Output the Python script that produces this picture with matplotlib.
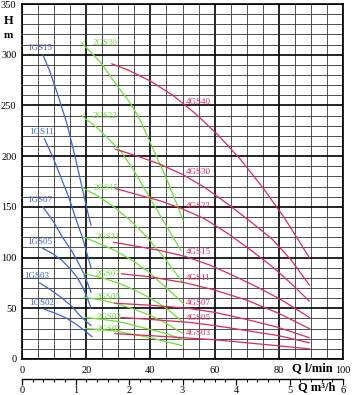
import numpy as np
import matplotlib.pyplot as plt
from matplotlib.ticker import MultipleLocator

# ---- curve data (Q in l/min, H in m) ----
blue_names = ["1GS15", "1GS11", "1GS07", "1GS05", "1GS03", "1GS02"]
blue_q = [[6.5, 8.5, 11.0, 14.0, 16.5, 18.5, 20.3, 21.5],
          [7.0, 9.5, 12.0, 14.5, 16.8, 18.8, 20.5, 21.5],
          [6.5, 9.5, 12.6, 15.0, 17.2, 19.0, 20.5, 21.5],
          [6.5, 9.5, 12.5, 15.0, 17.3, 19.2, 20.6, 21.5],
          [5.5, 9.0, 12.5, 15.5, 18.0, 20.0, 21.5],
          [7.0, 10.5, 14.0, 17.0, 19.5, 21.8]]
blue_h = [[300, 285, 262, 232, 200, 172, 147, 132],
          [217, 200, 180, 160, 138, 120, 101, 90],
          [150, 137, 120, 109, 97, 86, 74, 66],
          [109, 104, 97, 89, 80, 69, 58, 50],
          [75, 68, 60, 52, 43, 37, 33],
          [49, 45, 40, 34, 28, 22]]

green_names = ["2GS30", "2GS22", "2GS15", "2GS11", "2GS07", "2GS05", "2GS03", "2GS02"]
green_q = [[18.5, 24.6, 29.5, 33.8, 36.9, 40.0, 45.0, 50.2],
           [18.5, 23.0, 27.0, 31.0, 35.0, 40.0, 45.0, 49.5],
           [18.8, 24.0, 29.0, 34.0, 39.0, 44.0, 50.2],
           [19.4, 24.0, 29.0, 34.0, 39.0, 44.0, 50.2],
           [19.4, 25.0, 30.0, 35.0, 40.0, 45.0, 50.2],
           [19.4, 25.0, 30.0, 35.0, 40.0, 45.0, 50.2],
           [19.7, 25.0, 30.0, 35.0, 40.0, 45.0, 50.2],
           [19.7, 25.0, 30.0, 35.0, 40.0, 45.0, 50.2]]
green_h = [[312, 292, 270, 252, 235, 213, 178, 137],
           [240, 229, 217, 204, 185, 158, 131, 107],
           [169, 160, 149, 136, 120, 101, 75],
           [120, 114, 107, 98, 87, 73, 55],
           [84, 80, 75, 68, 60, 50, 36],
           [61, 58, 54, 49, 43, 35, 25],
           [41, 39, 37, 33, 29, 25, 19],
           [30, 29, 27, 24, 21, 17, 13]]

red_names = ["4GS40", "4GS30", "4GS22", "4GS15", "4GS11", "4GS07", "4GS05", "4GS03"]
red_q = [[28.0, 33.0, 40.0, 47.0, 54.0, 61.0, 68.0, 75.0, 82.0, 89.5],
         [29.0, 36.0, 43.0, 50.0, 57.0, 64.0, 71.0, 78.0, 84.0, 89.5],
         [29.2, 36.0, 43.0, 50.0, 57.0, 64.0, 71.0, 78.0, 84.0, 89.5],
         [28.6, 36.0, 43.0, 51.0, 59.0, 66.0, 73.2, 81.0, 89.5],
         [31.0, 40.0, 51.0, 60.0, 70.0, 80.0, 89.5],
         [28.9, 40.0, 51.7, 60.0, 70.0, 80.0, 89.5],
         [30.8, 40.0, 52.3, 60.0, 70.0, 80.0, 89.5],
         [29.0, 40.0, 50.0, 60.0, 70.0, 80.0, 89.5]]
red_h = [[291, 285, 274, 260, 242, 221, 197, 169, 138, 100],
         [207, 200, 192, 182, 169, 153, 136, 118, 97, 73],
         [168, 162, 156, 148, 138, 124, 108, 91, 74, 57],
         [115, 111, 107, 101, 92, 82, 71, 58, 41],
         [84, 81, 75, 68, 58, 45, 30],
         [55, 53, 50, 46, 39, 31, 21],
         [41, 39, 36, 33, 28, 23, 16],
         [25, 23, 21, 19, 16, 13, 10]]

q_ticks = [0, 20, 40, 60, 80, 100]
m3h_ticks = [0, 1, 2, 3, 4, 5, 6]
h_ticks = [0, 50, 100, 150, 200, 250, 300, 350]

BLUE = "#3e63d6"
GREEN = "#6ee03a"
RED = "#dc2a5a"
serif = "Liberation Serif"

fig = plt.figure(figsize=(3.53, 3.95), dpi=100)
ax = fig.add_axes([22 / 353, 36 / 395, 321 / 353, 355 / 395])
ax.set_xlim(0, 99)
ax.set_ylim(0, 350)

# grid: thin every 5 l/min / 10 m, heavy every 20 l/min / 50 m
ax.xaxis.set_major_locator(MultipleLocator(20))
ax.xaxis.set_minor_locator(MultipleLocator(5))
ax.yaxis.set_major_locator(MultipleLocator(50))
ax.yaxis.set_minor_locator(MultipleLocator(10))
ax.grid(which="minor", color="#333333", lw=0.6)
ax.grid(which="major", color="black", lw=1.2)
ax.set_axisbelow(True)
ax.tick_params(which="both", length=0)
ax.tick_params(axis="x", pad=5, labelsize=7.5)
ax.tick_params(axis="y", pad=4, labelsize=7.5)
ax.set_xticks(q_ticks)
ax.set_yticks(h_ticks)
for lab in ax.get_xticklabels() + ax.get_yticklabels():
    lab.set_family(serif)
for s in ax.spines.values():
    s.set_linewidth(1.2)


def draw_family(names, qs, hs, color, where):
    for name, q, h in zip(names, qs, hs):
        ax.plot(q, h, color=color, lw=0.9)
        if where == "blue":
            ax.annotate(name, (q[0], h[0]), xytext=(-2, 2), textcoords="offset points",
                        ha="center", va="bottom", color=color, fontsize=6.5, family=serif)
        elif where == "green":
            ax.annotate(name, (q[0], h[0]), xytext=(8, 0), textcoords="offset points",
                        ha="left", va="center", color=color, fontsize=6.5, family=serif)
        else:
            hy = np.interp(51.2, q, h)
            ax.annotate(name, (51.2, hy), xytext=(0, 0.5), textcoords="offset points",
                        ha="left", va="bottom", color=color, fontsize=6.5, family=serif)


draw_family(blue_names, blue_q, blue_h, BLUE, "blue")
draw_family(green_names, green_q, green_h, GREEN, "green")
draw_family(red_names, red_q, red_h, RED, "red")

# secondary flow scale in m3/h under the chart
ax2 = fig.add_axes([22 / 353, 16 / 395, 321 / 353, 0.0001])
ax2.set_xlim(0, 99 * 6 / 100)
ax2.set_ylim(0, 1)
for side in ["top", "left", "right"]:
    ax2.spines[side].set_visible(False)
ax2.spines["bottom"].set_linewidth(1.0)
ax2.set_yticks([])
ax2.set_xticks(m3h_ticks)
ax2.xaxis.set_minor_locator(MultipleLocator(0.2))
ax2.tick_params(which="major", length=4, width=0.9, pad=1, labelsize=7.5)
ax2.tick_params(which="minor", length=2.5, width=0.8)
for lab in ax2.get_xticklabels():
    lab.set_family(serif)

fig.text(4 / 353, 1 - 21 / 395, "H", fontsize=9, fontweight="bold", family=serif, va="center")
fig.text(4 / 353, 1 - 35 / 395, "m", fontsize=8, fontweight="bold", family=serif, va="center")
fig.text(292 / 353, 1 - 368 / 395, "Q l/min", fontsize=9, fontweight="bold", family=serif, va="center")
fig.text(298 / 353, 1 - 387 / 395, "Q m\u00b3/h", fontsize=9, fontweight="bold", family=serif, va="center")

fig.savefig("out.png", dpi=100)
